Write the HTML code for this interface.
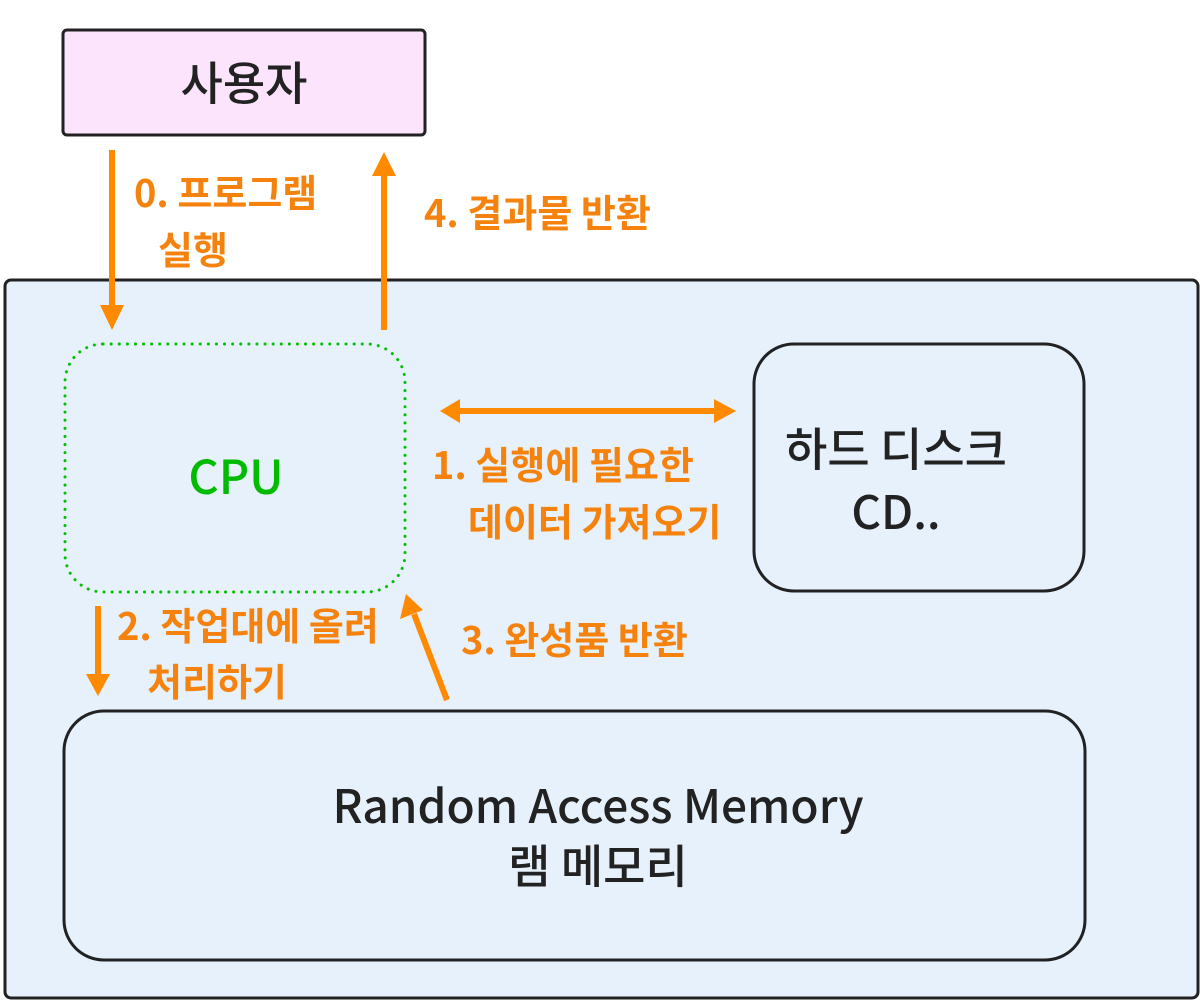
<!DOCTYPE html>
<html><head><meta charset="utf-8"><style>
html,body{margin:0;padding:0;background:#fff;}
svg{display:block;}
.lbl{font-family:"Noto Sans CJK KR",sans-serif;font-weight:bold;font-size:38px;fill:#f5820d;}
.t{font-family:"Noto Sans CJK KR",sans-serif;font-weight:500;font-size:46px;fill:#222;}
</style></head><body>
<svg width="1200" height="1000" viewBox="0 0 1200 1000" xmlns="http://www.w3.org/2000/svg">
<rect x="5" y="280" width="1193" height="718" rx="6" fill="#e6f1fc" stroke="#222" stroke-width="3"/>
<rect x="63" y="30" width="362" height="105" rx="4" fill="#fbe4fc" stroke="#222" stroke-width="3"/>
<text class="t" x="244" y="100" text-anchor="middle">사용자</text>
<rect x="65" y="344" width="340" height="248" rx="38" fill="none" stroke="#00c000" stroke-width="3" stroke-dasharray="0.1 8" stroke-linecap="round"/>
<text x="236" y="494" text-anchor="middle" font-family="Noto Sans CJK KR, sans-serif" font-weight="500" font-size="47" fill="#00bb00">CPU</text>
<rect x="754" y="344" width="330" height="247" rx="40" fill="#e6f1fc" stroke="#222" stroke-width="3"/>
<text class="t" x="896" y="466" text-anchor="middle">하드 디스크</text>
<text class="t" x="896" y="529" text-anchor="middle">CD..</text>
<rect x="64" y="711" width="1021" height="249" rx="40" fill="#e6f1fc" stroke="#222" stroke-width="3"/>
<text class="t" x="598" y="823" text-anchor="middle">Random Access Memory</text>
<text class="t" x="598" y="883" text-anchor="middle">램 메모리</text>
<g stroke="#ff8a00" stroke-width="6" fill="#ff8a00">
<line x1="112" y1="150" x2="112" y2="310"/>
<polygon points="100,305 124,305 112,330" stroke="none"/>
<line x1="384" y1="330" x2="384" y2="172"/>
<polygon points="372,176 396,176 384,152" stroke="none"/>
<line x1="458" y1="411" x2="716" y2="411"/>
<polygon points="460,399 460,423 440,411" stroke="none"/>
<polygon points="714,399 714,423 736,411" stroke="none"/>
<line x1="98" y1="606" x2="98" y2="676"/>
<polygon points="86,674 110,674 98,696" stroke="none"/>
<line x1="447" y1="700" x2="414" y2="614"/>
<polygon points="400,619 423,610 406,594" stroke="none"/>
</g>
<text class="lbl" x="134" y="207">0. 프로그램</text>
<text class="lbl" x="158" y="264">실행</text>
<text class="lbl" x="424" y="227">4. 결과물 반환</text>
<text class="lbl" x="432" y="479">1. 실행에 필요한</text>
<text class="lbl" x="468" y="536">데이터 가져오기</text>
<text class="lbl" x="117" y="640">2. 작업대에 올려</text>
<text class="lbl" x="147" y="696">처리하기</text>
<text class="lbl" x="461" y="654">3. 완성품 반환</text>
</svg>
</body></html>
